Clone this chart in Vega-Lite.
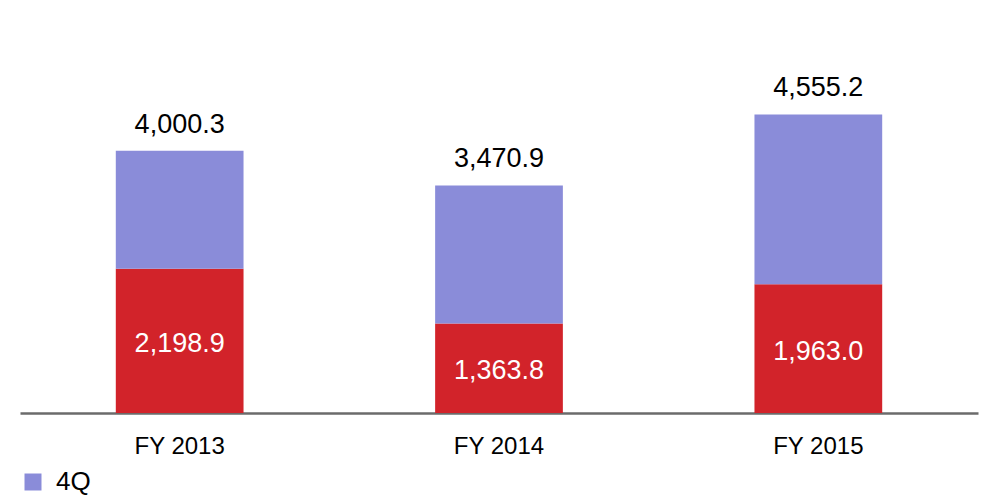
{
  "$schema": "https://vega.github.io/schema/vega-lite/v6.json",
  "autosize": "none",
  "width": 958,
  "height": 413,
  "padding": {"left": 20, "top": 0, "right": 10, "bottom": 83},
  "background": "white",
  "config": {"view": {"stroke": null}, "font": "Liberation Sans"},
  "data": {
    "values": [
      {"year": "FY 2013", "q": "1-3Q", "ord": 1, "value": 2198.9},
      {"year": "FY 2013", "q": "4Q", "ord": 2, "value": 1801.4},
      {"year": "FY 2014", "q": "1-3Q", "ord": 1, "value": 1363.8},
      {"year": "FY 2014", "q": "4Q", "ord": 2, "value": 2107.1},
      {"year": "FY 2015", "q": "1-3Q", "ord": 1, "value": 1963.0},
      {"year": "FY 2015", "q": "4Q", "ord": 2, "value": 2592.2}
    ]
  },
  "encoding": {
    "x": {
      "field": "year",
      "type": "nominal",
      "scale": {"paddingInner": 0.6, "paddingOuter": 0.3},
      "axis": {
        "title": null,
        "labelAngle": 0,
        "ticks": false,
        "labelFontSize": 24,
        "labelColor": "#000000",
        "labelPadding": 21,
        "domainColor": "#6b6b6b",
        "domainWidth": 2.5
      }
    }
  },
  "layer": [
    {
      "mark": {"type": "bar"},
      "encoding": {
        "y": {
          "field": "value",
          "type": "quantitative",
          "stack": "zero",
          "scale": {"domain": [0, 6300], "nice": false},
          "axis": null
        },
        "color": {
          "field": "q",
          "type": "nominal",
          "scale": {"domain": ["1-3Q", "4Q"], "range": ["#d2232a", "#8a8cd9"]},
          "legend": {
            "values": ["4Q"],
            "title": null,
            "orient": "none",
            "legendX": 0,
            "legendY": 469,
            "symbolType": "square",
            "symbolSize": 289,
            "symbolStrokeWidth": 0,
            "labelFontSize": 26,
            "labelColor": "#000000",
            "labelOffset": 10
          }
        },
        "order": {"field": "ord", "type": "quantitative"}
      }
    },
    {
      "transform": [
        {"aggregate": [{"op": "sum", "field": "value", "as": "total"}], "groupby": ["year"]}
      ],
      "mark": {"type": "text", "fontSize": 27, "color": "#000000", "baseline": "alphabetic", "dy": -18},
      "encoding": {
        "y": {"field": "total", "type": "quantitative"},
        "text": {"field": "total", "type": "quantitative", "format": ",.1f"}
      }
    },
    {
      "transform": [
        {"filter": "datum.q === '1-3Q'"},
        {"calculate": "datum.value / 2", "as": "mid"}
      ],
      "mark": {"type": "text", "fontSize": 27, "color": "#ffffff", "baseline": "middle", "dy": 3},
      "encoding": {
        "y": {"field": "mid", "type": "quantitative"},
        "text": {"field": "value", "type": "quantitative", "format": ",.1f"}
      }
    }
  ]
}
